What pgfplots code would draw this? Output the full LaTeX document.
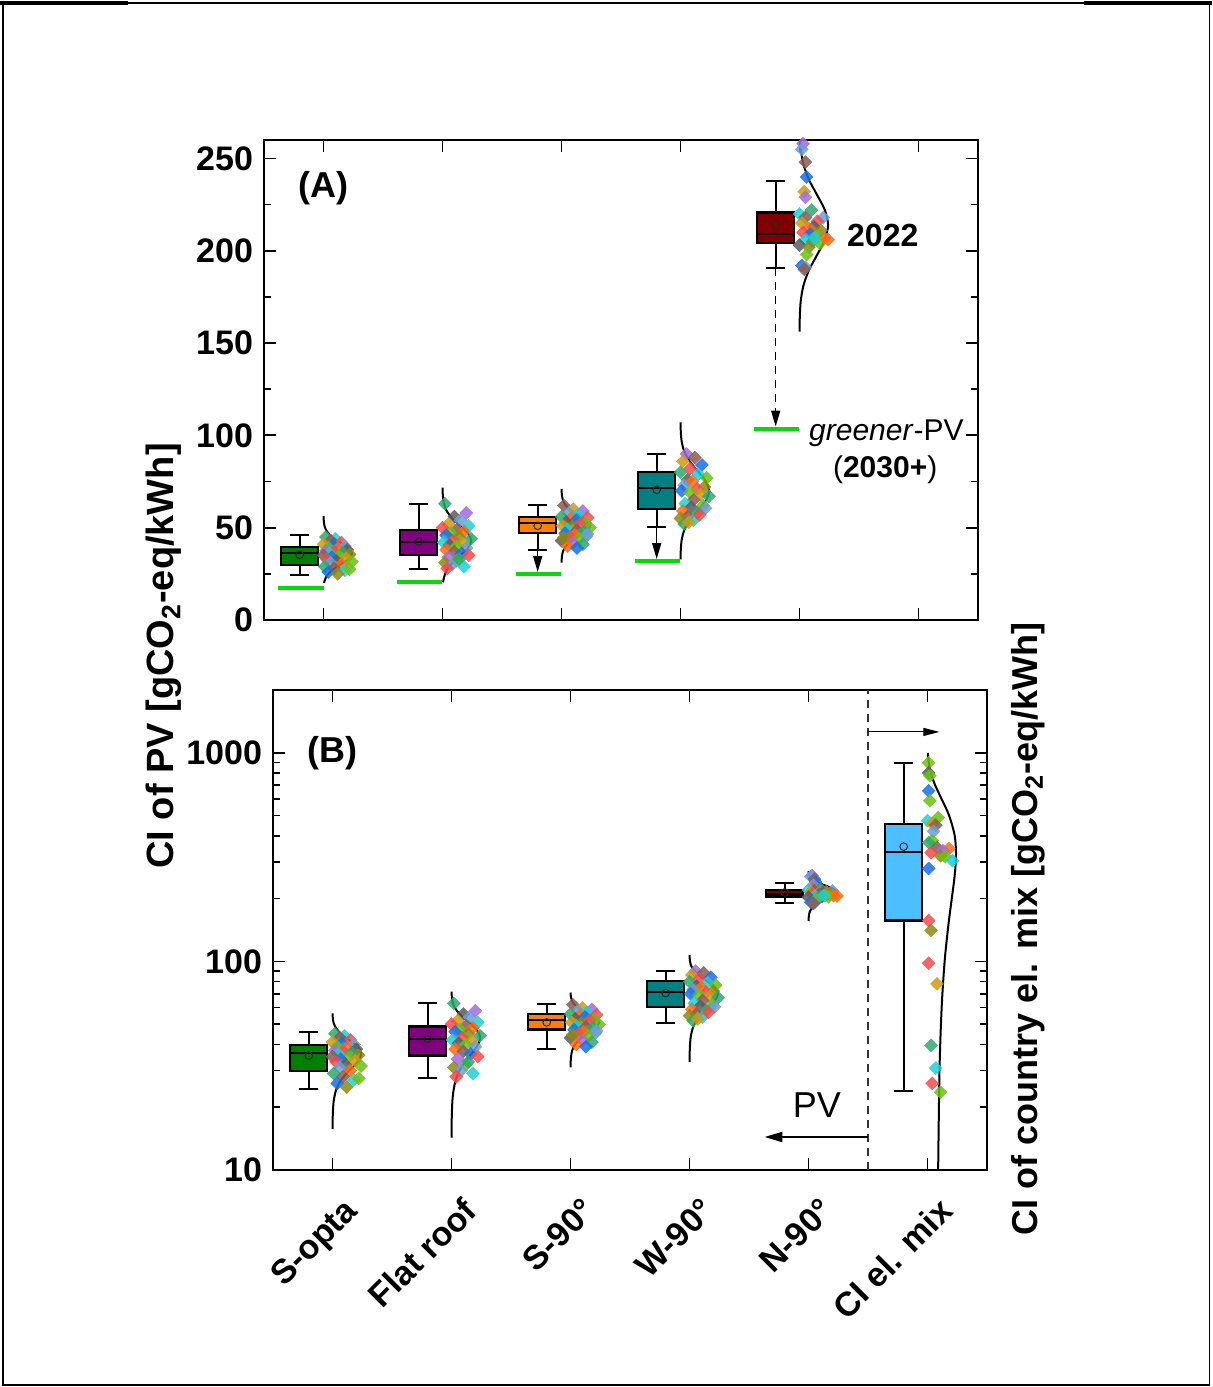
\documentclass[border=0pt]{standalone}
\usepackage{fontspec}
\setmainfont{Liberation Sans}
\usepackage{pgfplots}
\pgfplotsset{compat=1.18}
\usepackage{pgfplotstable}
\usetikzlibrary{arrows.meta}

% box colours
\definecolor{bxSopta}{HTML}{008000}
\definecolor{bxFlat}{HTML}{800080}
\definecolor{bxS90}{HTML}{FF8000}
\definecolor{bxW90}{HTML}{008080}
\definecolor{bxN90}{HTML}{800000}
\definecolor{bxMix}{HTML}{4DBEFF}
\definecolor{greener}{HTML}{00DD00}
% point colours
\definecolor{colA}{HTML}{A26BE1}
\definecolor{colB}{HTML}{8B5B52}
\definecolor{colC}{HTML}{1A6FE6}
\definecolor{colD}{HTML}{6B9FD9}
\definecolor{colE}{HTML}{CF9A12}
\definecolor{colF}{HTML}{2DAA6E}
\definecolor{colG}{HTML}{6CC012}
\definecolor{colH}{HTML}{F44B4B}
\definecolor{colI}{HTML}{FF6B10}
\definecolor{colJ}{HTML}{1DCFD8}
\definecolor{colK}{HTML}{5C5C5C}
\definecolor{colL}{HTML}{8D8A12}

% single points per category (x = category + jitter)
\pgfplotstableread{
x y c
1.02 45 cF
1.10 44 cJ
1.06 43 cB
1.15 42 cH
1.00 41 cE
1.08 40.5 cC
1.18 40 cD
1.04 39 cG
1.12 38.5 cI
1.20 38 cK
1.02 37.5 cA
1.09 37 cH
1.16 36.5 cF
1.05 36 cJ
1.22 35.5 cL
1.00 35 cB
1.13 34.5 cG
1.07 34 cC
1.19 33.5 cE
1.03 33 cH
1.11 32 cK
1.24 31.5 cG
1.06 31 cD
1.15 30 cI
1.01 29 cF
1.09 28 cB
1.18 27 cJ
1.04 26 cC
1.12 25 cL
1.22 27.5 cG
}\ptsSopta
\pgfplotstableread{
x y c
2.02 63 cF
2.20 58 cA
2.10 56 cK
2.15 54 cD
2.05 52 cE
2.22 51 cJ
2.00 50 cH
2.12 49 cB
2.18 48 cI
2.07 47 cG
2.03 46 cC
2.14 45 cL
2.24 44 cF
2.09 43 cH
2.01 42 cJ
2.17 41.5 cE
2.06 40.5 cK
2.12 40 cG
2.20 39 cD
2.03 38 cI
2.10 37 cB
2.16 36 cC
2.22 35 cH
2.05 34 cA
2.12 32 cG
2.02 31 cL
2.08 30 cD
2.18 29 cJ
2.04 28 cH
2.14 33 cF
}\ptsFlat
\pgfplotstableread{
x y c
3.02 62 cB
3.10 60 cE
3.18 59 cA
3.06 58 cD
3.14 57 cJ
3.00 56 cF
3.22 55.5 cH
3.08 55 cI
3.12 54 cC
3.04 53 cK
3.20 52.5 cG
3.16 52 cH
3.01 51 cE
3.09 50.5 cL
3.24 50 cG
3.05 49 cJ
3.13 48.5 cB
3.19 48 cF
3.03 47 cC
3.11 46 cI
3.21 45.5 cD
3.07 45 cH
3.15 44 cG
3.00 43 cK
3.10 42 cA
3.18 41 cF
3.05 40 cI
3.13 39 cC
3.22 46.5 cD
3.02 44.5 cL
}\ptsSninety
\pgfplotstableread{
x y c
4.05 90 cA
4.12 88 cB
4.02 86 cE
4.18 84 cC
4.08 82 cH
4.00 80 cF
4.15 79 cJ
4.22 77 cG
4.06 76 cK
4.10 75 cI
4.03 73 cD
4.20 72 cL
4.14 71 cH
4.01 70 cC
4.08 69 cG
4.17 68 cE
4.24 67 cF
4.11 65 cB
4.04 63 cJ
4.19 62 cG
4.09 61 cK
4.02 59 cI
4.14 58 cF
4.06 56 cB
4.21 60.5 cD
4.00 55 cL
4.11 54 cJ
4.03 52 cF
4.16 57 cH
4.07 53 cE
}\ptsWninety
\pgfplotstableread{
x y c
5.03 258 cA
5.02 255 cD
5.05 248 cB
5.06 240 cC
5.04 232 cE
5.05 229 cA
5.10 222 cF
5.00 220 cJ
5.05 218 cB
5.20 218 cD
5.15 216 cH
5.02 215 cE
5.12 213 cK
5.08 212 cI
5.18 211 cL
5.03 210 cH
5.09 209 cC
5.14 208 cG
5.21 207 cI
5.05 206 cJ
5.11 205 cF
5.17 204 cG
5.00 203 cK
5.08 202 cL
5.06 198 cG
5.02 192 cC
5.05 191 cD
5.04 190 cB
5.24 206 cI
5.13 207 cJ
}\ptsNninety
\pgfplotstableread{
x y c
6.01 896 cG
6.01 802 cK
6.02 777 cG
6.01 658 cC
6.02 589 cG
6.09 489 cG
6.00 473 cJ
6.04 457 cE
6.07 450 cB
6.05 420 cD
6.04 379 cG
6.01 371 cF
6.08 351 cB
6.18 347 cI
6.13 340 cA
6.03 332 cH
6.11 321 cL
6.15 318 cG
6.21 304 cJ
6.01 279 cC
6.01 157 cH
6.03 141 cL
6.01 98 cH
6.08 78 cE
6.03 39.6 cF
6.07 30.8 cJ
6.04 26 cH
6.11 23.6 cG
}\ptsMix

\pgfplotsset{
  panel/.style={
    scale only axis, width=357pt, height=240pt,
    xmin=0.5, xmax=6.5, xtick={1,2,3,4,5,6},
    tick align=inside, major tick length=6pt, minor tick length=3.5pt,
    axis line style={line width=1pt},
    major tick style={line width=0.9pt, black},
    minor tick style={line width=0.8pt, black},
    tick label style={font=\fontsize{17}{17}\selectfont\bfseries},
    yticklabel style={xshift=-2pt},
    /pgf/number format/assume math mode=true,
    /pgf/number format/1000 sep={},
  },
  pts/.style={scatter, only marks, scatter src=explicit symbolic,
    mark=square*, mark size=2.3pt,
    mark options={rotate=45, fill opacity=0.85, draw opacity=0.85, line width=0.2pt},
    scatter/classes={
      cA={draw=colA,fill=colA}, cB={draw=colB,fill=colB}, cC={draw=colC,fill=colC},
      cD={draw=colD,fill=colD}, cE={draw=colE,fill=colE}, cF={draw=colF,fill=colF},
      cG={draw=colG,fill=colG}, cH={draw=colH,fill=colH}, cI={draw=colI,fill=colI},
      cJ={draw=colJ,fill=colJ}, cK={draw=colK,fill=colK}, cL={draw=colL,fill=colL}}},
  mean/.style={only marks, mark=o, mark size=1.9pt, mark options={line width=0.5pt, draw=black!85}},
  dist/.style={black, line width=1pt, smooth},
  gline/.style={greener, line width=2pt},
  wsk/.style={black, line width=1pt, mark=-, mark size=4.75pt, mark options={solid, line width=1pt}},
}

% box: pos, box left, box right, lower whisker, Q1, median, Q3, upper whisker, colour
\newcommand{\bxp}[9]{%
  \addplot[wsk] coordinates {(#1,#4) (#1,#5)};
  \addplot[wsk] coordinates {(#1,#7) (#1,#8)};
  \addplot[fill=#9, draw=black, line width=1.1pt] coordinates {(#2,#5) (#3,#5) (#3,#7) (#2,#7)} -- cycle;
  \addplot[black, line width=1.1pt] coordinates {(#2,#6) (#3,#6)};
}

\begin{document}
\begin{tikzpicture}
\path[use as bounding box] (0,0) rectangle (606pt,-693.5pt);
\draw[line width=0.6pt] (1.5pt,-1.5pt) rectangle (604.8pt,-692.5pt);
\draw[line width=1.6pt] (0pt,-1.5pt) -- (64pt,-1.5pt);
\draw[line width=1.6pt] (542pt,-1.5pt) -- (606pt,-1.5pt);

% ---------- panel A ----------
\begin{axis}[panel, at={(132pt,-70pt)}, anchor=north west,
  ymin=0, ymax=260, ytick={0,50,100,150,200,250}, minor y tick num=1,
  xticklabels={}]
  \bxp{0.8}{0.645}{0.955}{24.5}{29.8}{36.5}{39.6}{46.1}{bxSopta}
  \bxp{1.8}{1.645}{1.955}{27.7}{35.4}{42.3}{48.8}{62.9}{bxFlat}
  \bxp{2.8}{2.645}{2.955}{38}{47.2}{52.5}{55.9}{62.4}{bxS90}
  \bxp{3.8}{3.645}{3.955}{50.4}{60.2}{71.6}{80.3}{90}{bxW90}
  \bxp{4.8}{4.645}{4.955}{190.9}{204.4}{209.3}{220.7}{238}{bxN90}
  \addplot[mean] coordinates {(0.8,35.3) (1.8,42.5) (2.8,51) (3.8,70.5) (4.8,214.2)};
  % greener-PV levels
  \addplot[gline] coordinates {(0.62,17.4) (1,17.4)};
  \addplot[gline] coordinates {(1.62,20.6) (2,20.6)};
  \addplot[gline] coordinates {(2.62,24.9) (3,24.9)};
  \addplot[gline] coordinates {(3.62,32) (4,32)};
  \addplot[gline] coordinates {(4.62,103.6) (5,103.6)};
  \addplot[black, line width=0.8pt, -{Triangle[length=8pt,width=4.5pt]}] coordinates {(2.8,38) (2.8,26)};
  \addplot[black, line width=0.8pt, -{Triangle[length=8pt,width=4.5pt]}] coordinates {(3.8,50.4) (3.8,33)};
  \addplot[black, line width=0.8pt, dash pattern=on 4pt off 3pt, -{Triangle[length=8pt,width=4.5pt]}] coordinates {(4.8,190.9) (4.8,104.8)};
  % points
  \addplot[pts] table[meta=c] {\ptsSopta};
  \addplot[pts] table[meta=c] {\ptsFlat};
  \addplot[pts] table[meta=c] {\ptsSninety};
  \addplot[pts] table[meta=c] {\ptsWninety};
  \addplot[pts] table[meta=c] {\ptsNninety};
  % normal curves
  \addplot[dist] coordinates {(1.0055,20.05)(1.0105,21.5)(1.0325,24.4)(1.0779,27.3)(1.1456,30.2)(1.2118,33.1)(1.24,36)(1.2118,38.9)(1.1456,41.8)(1.0779,44.7)(1.0325,47.6)(1.0105,50.5)(1.0027,53.4)(1.0005,56.3)};
  \addplot[dist] coordinates {(2.0055,20.45)(2.0105,22.5)(2.0325,26.6)(2.0779,30.7)(2.1456,34.8)(2.2118,38.9)(2.24,43)(2.2118,47.1)(2.1456,51.2)(2.0779,55.3)(2.0325,59.4)(2.0105,63.5)(2.0027,67.6)(2.0005,71.7)};
  \addplot[dist] coordinates {(3.0005,31.05)(3.0027,33.9)(3.0105,36.75)(3.0325,39.6)(3.0779,42.45)(3.1456,45.3)(3.2118,48.15)(3.24,51)(3.2118,53.85)(3.1456,56.7)(3.0779,59.55)(3.0325,62.4)(3.0105,65.25)(3.0027,68.1)(3.0005,70.95)};
  \addplot[dist] coordinates {(4.0005,32.9)(4.0027,38.2)(4.0105,43.5)(4.0325,48.8)(4.0779,54.1)(4.1456,59.4)(4.2118,64.7)(4.24,70)(4.2118,75.3)(4.1456,80.6)(4.0779,85.9)(4.0325,91.2)(4.0105,96.5)(4.0027,101.8)(4.0005,107.1)};
  \addplot[dist] coordinates {(5.0005,156.25)(5.0027,164.5)(5.0105,172.75)(5.0325,181)(5.0779,189.25)(5.1456,197.5)(5.2118,205.75)(5.24,214)(5.2118,222.25)(5.1456,230.5)(5.0779,238.75)(5.0325,247)(5.0105,255.25)(5.0027,263.5)(5.0005,271.75)};
  \node[font=\fontsize{18}{18}\selectfont\bfseries] at (axis cs:1.0,234) {(A)};
  \node[font=\fontsize{16}{16}\selectfont\bfseries] at (axis cs:5.70,208.5) {2022};
  \node[font=\fontsize{15}{15}\selectfont] at (axis cs:5.73,101) {\textit{greener}-PV};
  \node[font=\fontsize{15}{15}\selectfont] at (axis cs:5.72,81.5) {(\textbf{2030+})};
\end{axis}

% ---------- panel B ----------
\begin{axis}[panel, at={(136.5pt,-345pt)}, anchor=north west,
  ymode=log, ymin=10, ymax=2000, log ticks with fixed point,
  ytick={10,100,1000},
  xticklabels={S-opta, Flat roof, S-90°, W-90°, N-90°, CI el. mix},
  xticklabel style={xshift=5pt, yshift=-8pt, rotate=45, anchor=north east, font=\fontsize{17}{17}\selectfont\bfseries}]
  \bxp{0.8}{0.645}{0.955}{24.5}{29.8}{36.5}{39.6}{46.1}{bxSopta}
  \bxp{1.8}{1.645}{1.955}{27.7}{35.4}{42.3}{48.8}{62.9}{bxFlat}
  \bxp{2.8}{2.645}{2.955}{38}{47.2}{52.5}{55.9}{62.4}{bxS90}
  \bxp{3.8}{3.645}{3.955}{50.4}{60.2}{71.6}{80.3}{90}{bxW90}
  \bxp{4.8}{4.645}{4.955}{190.9}{204.4}{209.3}{220.7}{238}{bxN90}
  \bxp{5.8}{5.645}{5.955}{23.9}{157}{336}{457}{896}{bxMix}
  \addplot[mean] coordinates {(0.8,35.3) (1.8,42.5) (2.8,51) (3.8,70.5) (4.8,214.2) (5.8,355)};
  % divider and arrows
  \addplot[black!80, line width=0.6pt, dash pattern=on 4pt off 3pt] coordinates {(5.5,10) (5.5,2000)};
  \addplot[black, line width=0.5pt, -{Triangle[length=8pt,width=4pt]}] coordinates {(5.5,1259) (6.1,1259)};
  \addplot[black, line width=1.2pt, -{Triangle[length=9pt,width=5pt]}] coordinates {(5.5,14.4) (4.63,14.4)};
  % points
  \addplot[pts] table[meta=c] {\ptsSopta};
  \addplot[pts] table[meta=c] {\ptsFlat};
  \addplot[pts] table[meta=c] {\ptsSninety};
  \addplot[pts] table[meta=c] {\ptsWninety};
  \addplot[pts] table[meta=c] {\ptsNninety};
  \addplot[pts] table[meta=c] {\ptsMix};
  % normal curves
  \addplot[dist] coordinates {(1.0005,15.7)(1.0027,18.6)(1.0105,21.5)(1.0325,24.4)(1.0779,27.3)(1.1456,30.2)(1.2118,33.1)(1.24,36)(1.2118,38.9)(1.1456,41.8)(1.0779,44.7)(1.0325,47.6)(1.0105,50.5)(1.0027,53.4)(1.0005,56.3)};
  \addplot[dist] coordinates {(2.0005,14.3)(2.0027,18.4)(2.0105,22.5)(2.0325,26.6)(2.0779,30.7)(2.1456,34.8)(2.2118,38.9)(2.24,43)(2.2118,47.1)(2.1456,51.2)(2.0779,55.3)(2.0325,59.4)(2.0105,63.5)(2.0027,67.6)(2.0005,71.7)};
  \addplot[dist] coordinates {(3.0005,31.05)(3.0027,33.9)(3.0105,36.75)(3.0325,39.6)(3.0779,42.45)(3.1456,45.3)(3.2118,48.15)(3.24,51)(3.2118,53.85)(3.1456,56.7)(3.0779,59.55)(3.0325,62.4)(3.0105,65.25)(3.0027,68.1)(3.0005,70.95)};
  \addplot[dist] coordinates {(4.0005,32.9)(4.0027,38.2)(4.0105,43.5)(4.0325,48.8)(4.0779,54.1)(4.1456,59.4)(4.2118,64.7)(4.24,70)(4.2118,75.3)(4.1456,80.6)(4.0779,85.9)(4.0325,91.2)(4.0105,96.5)(4.0027,101.8)(4.0005,107.1)};
  \addplot[dist] coordinates {(5.0005,156.25)(5.0027,164.5)(5.0105,172.75)(5.0325,181)(5.0779,189.25)(5.1456,197.5)(5.2118,205.75)(5.24,214)(5.2118,222.25)(5.1456,230.5)(5.0779,238.75)(5.0325,247)(5.0105,255.25)(5.0027,263.5)(5.0005,271.75)};
  \addplot[dist] coordinates {(6.0896,10)(6.101,30)(6.119,60)(6.144,100)(6.176,150)(6.204,200)(6.226,250)(6.238,300)(6.24,330)(6.229,400)(6.182,500)(6.119,600)(6.064,700)(6.0287,800)(6.0105,900)(6.0032,1000)};
  \node[font=\fontsize{18}{18}\selectfont\bfseries] at (axis cs:1.0,1000) {(B)};
  \node[font=\fontsize{18}{18}\selectfont] at (axis cs:5.07,20.5) {PV};
\end{axis}

% shared axis titles
\node[rotate=90, font=\fontsize{19}{19}\selectfont\bfseries] at (82pt,-328pt) {CI of PV [gCO\textsubscript{2}-eq/kWh]};
\node[rotate=90, font=\fontsize{18}{18}\selectfont\bfseries] at (514pt,-464.5pt) {CI of country el. mix [gCO\textsubscript{2}-eq/kWh]};
\end{tikzpicture}
\end{document}
